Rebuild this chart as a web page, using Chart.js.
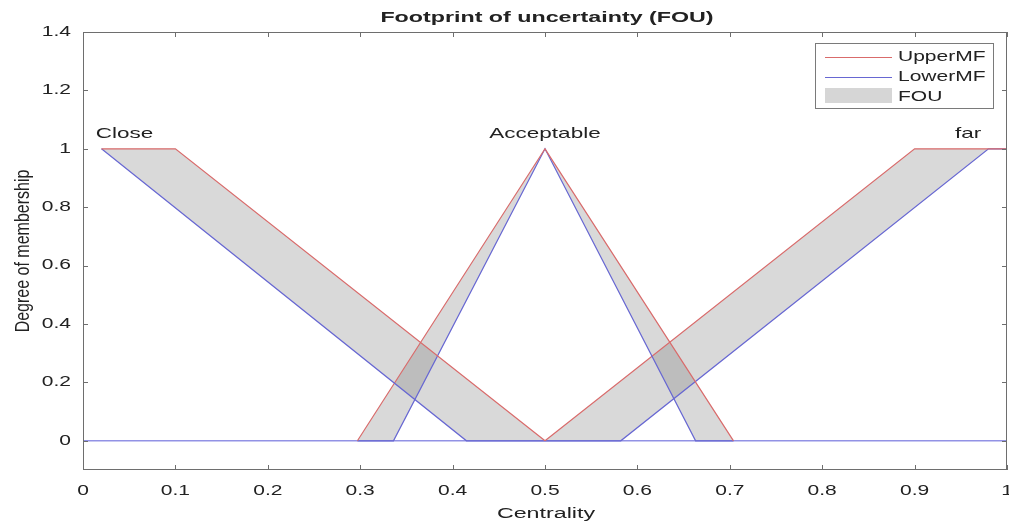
<!DOCTYPE html>
<html>
<head>
<meta charset="utf-8">
<script src="https://cdn.jsdelivr.net/npm/chart.js@4.4.1/dist/chart.umd.min.js"></script>
<style>
  html, body { margin: 0; padding: 0; background: #fff; }
  #wrap { width: 1009px; height: 525px; }
</style>
</head>
<body>
<div id="wrap"><canvas id="fou"></canvas></div>
<script>
// tick values
const xTicks = [0, 0.1, 0.2, 0.3, 0.4, 0.5, 0.6, 0.7, 0.8, 0.9, 1];
const yTicks = [0, 0.2, 0.4, 0.6, 0.8, 1, 1.2, 1.4];

// membership functions, [x, y] corner points
const closeUpper = [[0.02, 1], [0.1, 1], [0.5, 0]];
const closeLower = [[0.02, 1], [0.415, 0], [0.5, 0]];
const acceptableUpper = [[0.297, 0], [0.5, 1], [0.704, 0]];
const acceptableLower = [[0.297, 0], [0.336, 0], [0.5, 1], [0.663, 0], [0.704, 0]];
const farUpper = [[0.5, 0], [0.9, 1], [1, 1]];
const farLower = [[0.5, 0], [0.582, 0], [0.98, 1], [1, 1]];
const baseLine = [[0, 0], [1, 0]];

// names written above each set
const mfNames = ["Close", "Acceptable", "far"];
const mfNameX = [0.045, 0.5, 0.958];
const mfNameY = [1.05, 1.05, 1.05];

const legendNames = ["UpperMF", "LowerMF", "FOU"];

const RED = "#d96b6b";
const BLUE = "#6767d2";
const FOU_FILL = "rgba(120,120,120,0.28)";
const AXIS = "#6e6e6e";
const TEXT = "#222";
const FONT = "Liberation Sans, Arial, sans-serif";
const STRETCH = 1.5;

const pts = (arr) => arr.map((p) => ({ x: p[0], y: p[1] }));

function upperSet(arr) {
  return { data: pts(arr), borderColor: RED, borderWidth: 1.2, fill: "+1", backgroundColor: FOU_FILL };
}
function lowerSet(arr) {
  return { data: pts(arr), borderColor: BLUE, borderWidth: 1.2, fill: false };
}

function wideText(ctx, text, x, y, font, align) {
  ctx.save();
  ctx.font = font;
  ctx.fillStyle = TEXT;
  ctx.textBaseline = "middle";
  ctx.textAlign = align;
  ctx.translate(x, y);
  ctx.scale(STRETCH, 1);
  ctx.fillText(text, 0, 0);
  ctx.restore();
}

const decorations = {
  id: "decorations",
  afterDraw(chart) {
    const { ctx, chartArea: a, scales } = chart;
    const xs = scales.x, ys = scales.y;

    // frame and inward ticks
    ctx.save();
    ctx.strokeStyle = AXIS;
    ctx.lineWidth = 1;
    ctx.strokeRect(a.left + 0.5, a.top + 0.5, a.right - a.left - 1, a.bottom - a.top - 1);
    ctx.beginPath();
    xTicks.forEach((v) => {
      const px = Math.round(xs.getPixelForValue(v)) + 0.5;
      ctx.moveTo(px, a.bottom); ctx.lineTo(px, a.bottom - 5);
      ctx.moveTo(px, a.top); ctx.lineTo(px, a.top + 5);
    });
    yTicks.forEach((v) => {
      const py = Math.round(ys.getPixelForValue(v)) + 0.5;
      ctx.moveTo(a.left, py); ctx.lineTo(a.left + 5, py);
      ctx.moveTo(a.right, py); ctx.lineTo(a.right - 5, py);
    });
    ctx.stroke();
    ctx.restore();

    // tick labels
    const tickFont = "14px " + FONT;
    xTicks.forEach((v) => wideText(ctx, String(v), xs.getPixelForValue(v), a.bottom + 21, tickFont, "center"));
    yTicks.forEach((v) => wideText(ctx, String(v), a.left - 12, ys.getPixelForValue(v), tickFont, "right"));

    // set names
    mfNames.forEach((n, i) => wideText(ctx, n, xs.getPixelForValue(mfNameX[i]), ys.getPixelForValue(mfNameY[i]), "15px " + FONT, "center"));

    // titles
    const midX = (a.left + a.right) / 2;
    wideText(ctx, "Footprint of uncertainty (FOU)", midX + 2, 18, "bold 15.5px " + FONT, "center");
    wideText(ctx, "Centrality", midX + 1, 514, "15.5px " + FONT, "center");
    ctx.save();
    ctx.font = "16px " + FONT;
    ctx.fillStyle = TEXT;
    ctx.textAlign = "center";
    ctx.textBaseline = "middle";
    ctx.translate(23, (a.top + a.bottom) / 2);
    ctx.scale(1.3, 1);
    ctx.rotate(-Math.PI / 2);
    ctx.fillText("Degree of membership", 0, 0);
    ctx.restore();

    // legend box
    const bx = a.right - 192, by = a.top + 11, bw = 178, bh = 65;
    ctx.save();
    ctx.fillStyle = "#fff";
    ctx.fillRect(bx, by, bw, bh);
    ctx.strokeStyle = "#7a7a7a";
    ctx.strokeRect(bx + 0.5, by + 0.5, bw, bh);
    ctx.lineWidth = 1.2;
    ctx.strokeStyle = RED;
    ctx.beginPath(); ctx.moveTo(bx + 10, by + 14.5); ctx.lineTo(bx + 77, by + 14.5); ctx.stroke();
    ctx.strokeStyle = BLUE;
    ctx.beginPath(); ctx.moveTo(bx + 10, by + 34.5); ctx.lineTo(bx + 77, by + 34.5); ctx.stroke();
    ctx.fillStyle = "#d6d6d6";
    ctx.fillRect(bx + 10, by + 45, 67, 15);
    ctx.restore();
    legendNames.forEach((n, i) => wideText(ctx, n, bx + 83, by + 14 + i * 20, "14px " + FONT, "left"));
  }
};

new Chart(document.getElementById("fou"), {
  type: "line",
  data: {
    datasets: [
      upperSet(closeUpper), lowerSet(closeLower),
      upperSet(acceptableUpper), lowerSet(acceptableLower),
      upperSet(farUpper), lowerSet(farLower),
      { data: pts(baseLine), borderColor: "rgba(110,110,220,0.75)", borderWidth: 1.5, fill: false }
    ]
  },
  options: {
    responsive: true,
    maintainAspectRatio: false,
    animation: false,
    layout: { padding: { top: 32, right: 2, left: 0, bottom: 0 } },
    elements: { point: { radius: 0 }, line: { tension: 0 } },
    scales: {
      x: {
        type: "linear", min: 0, max: 1,
        grid: { display: false }, border: { display: false },
        ticks: { display: false },
        afterBuildTicks: (s) => { s.ticks = xTicks.map((v) => ({ value: v })); },
        afterFit: (s) => { s.height = 55; }
      },
      y: {
        type: "linear", min: -0.1, max: 1.4,
        grid: { display: false }, border: { display: false },
        ticks: { display: false },
        afterBuildTicks: (s) => { s.ticks = yTicks.map((v) => ({ value: v })); },
        afterFit: (s) => { s.width = 83; }
      }
    },
    plugins: {
      legend: { display: false },
      tooltip: { enabled: false },
      filler: { drawTime: "beforeDatasetsDraw" }
    }
  },
  plugins: [decorations]
});
</script>
</body>
</html>
